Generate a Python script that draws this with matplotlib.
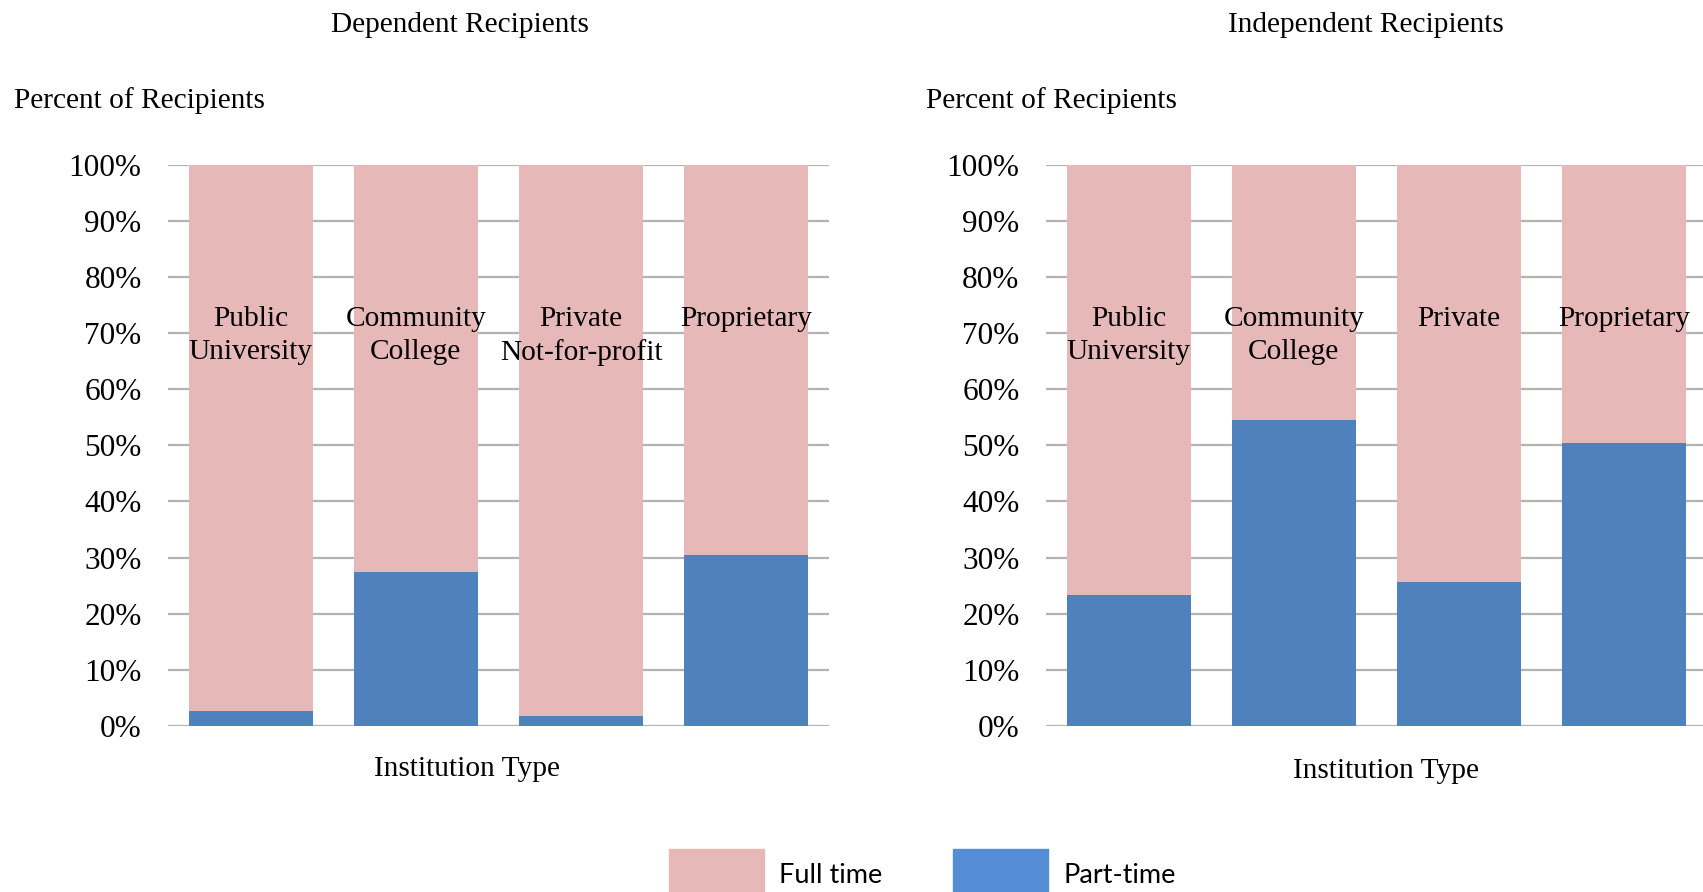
import matplotlib.pyplot as plt
from matplotlib.patches import Patch

# values (percent of recipients who are part-time)
dep_labels = ["Public\nUniversity", "Community\nCollege", "Private\nNot-for-profit", "Proprietary"]
ind_labels = ["Public\nUniversity", "Community\nCollege", "Private", "Proprietary"]
dep_part = [2.7, 27.5, 1.7, 30.4]
ind_part = [23.4, 54.5, 25.6, 50.4]
yticks = [0, 10, 20, 30, 40, 50, 60, 70, 80, 90, 100]

pink = "#E6B8B7"
blue = "#4F81BD"
serif = "Liberation Serif"

fig = plt.figure(figsize=(17.03, 8.92), dpi=100)
ax1 = fig.add_axes([0.0987, 0.1864, 0.388, 0.6286])
ax2 = fig.add_axes([0.6142, 0.1864, 0.388, 0.6286])


def draw(ax, labels, part):
    x = range(len(part))
    full = [100 - p for p in part]
    ax.bar(x, part, width=0.75, color=blue, zorder=2)
    ax.bar(x, full, width=0.75, bottom=part, color=pink, zorder=2)
    ax.set_xlim(-0.5, 3.5)
    ax.set_ylim(0, 100)
    ax.set_yticks(yticks)
    ax.set_yticklabels(["{}%".format(t) for t in yticks], fontfamily=serif, fontsize=22.5)
    ax.tick_params(axis="y", length=0, pad=19)
    ax.set_xticks([])
    for s in ax.spines.values():
        s.set_visible(False)
    ax.grid(axis="y", color="#B3B3B3", linewidth=1.6, zorder=1)
    ax.set_axisbelow(True)
    for i, lab in enumerate(labels):
        ax.text(i, 74.8, lab, ha="center", va="top", fontfamily=serif, fontsize=21.2,
                linespacing=1.33, zorder=3)


draw(ax1, dep_labels, dep_part)
draw(ax2, ind_labels, ind_part)

fig.text(460 / 1703, 1 - 25 / 892, "Dependent Recipients", ha="center", va="center",
         fontfamily=serif, fontsize=21.2)
fig.text(1366 / 1703, 1 - 25 / 892, "Independent Recipients", ha="center", va="center",
         fontfamily=serif, fontsize=21.2)
fig.text(14 / 1703, 1 - 101 / 892, "Percent of Recipients", ha="left", va="center",
         fontfamily=serif, fontsize=21.2)
fig.text(926 / 1703, 1 - 101 / 892, "Percent of Recipients", ha="left", va="center",
         fontfamily=serif, fontsize=21.2)
fig.text(467 / 1703, 1 - 769 / 892, "Institution Type", ha="center", va="center",
         fontfamily=serif, fontsize=21.2)
fig.text(1386 / 1703, 1 - 771 / 892, "Institution Type", ha="center", va="center",
         fontfamily=serif, fontsize=21.2)

handles = [Patch(color=pink, label="Full time"), Patch(color="#558ED5", label="Part-time")]
fig.legend(handles=handles, loc="upper left", bbox_to_anchor=(669 / 1703, 1 - 849 / 892),
           ncol=2, frameon=False, borderpad=0, borderaxespad=0,
           prop={"family": "Lato", "size": 19.5},
           handlelength=3.5, handleheight=2.57, handletextpad=0.57, columnspacing=2.6)

fig.savefig("out.png", dpi=100)
